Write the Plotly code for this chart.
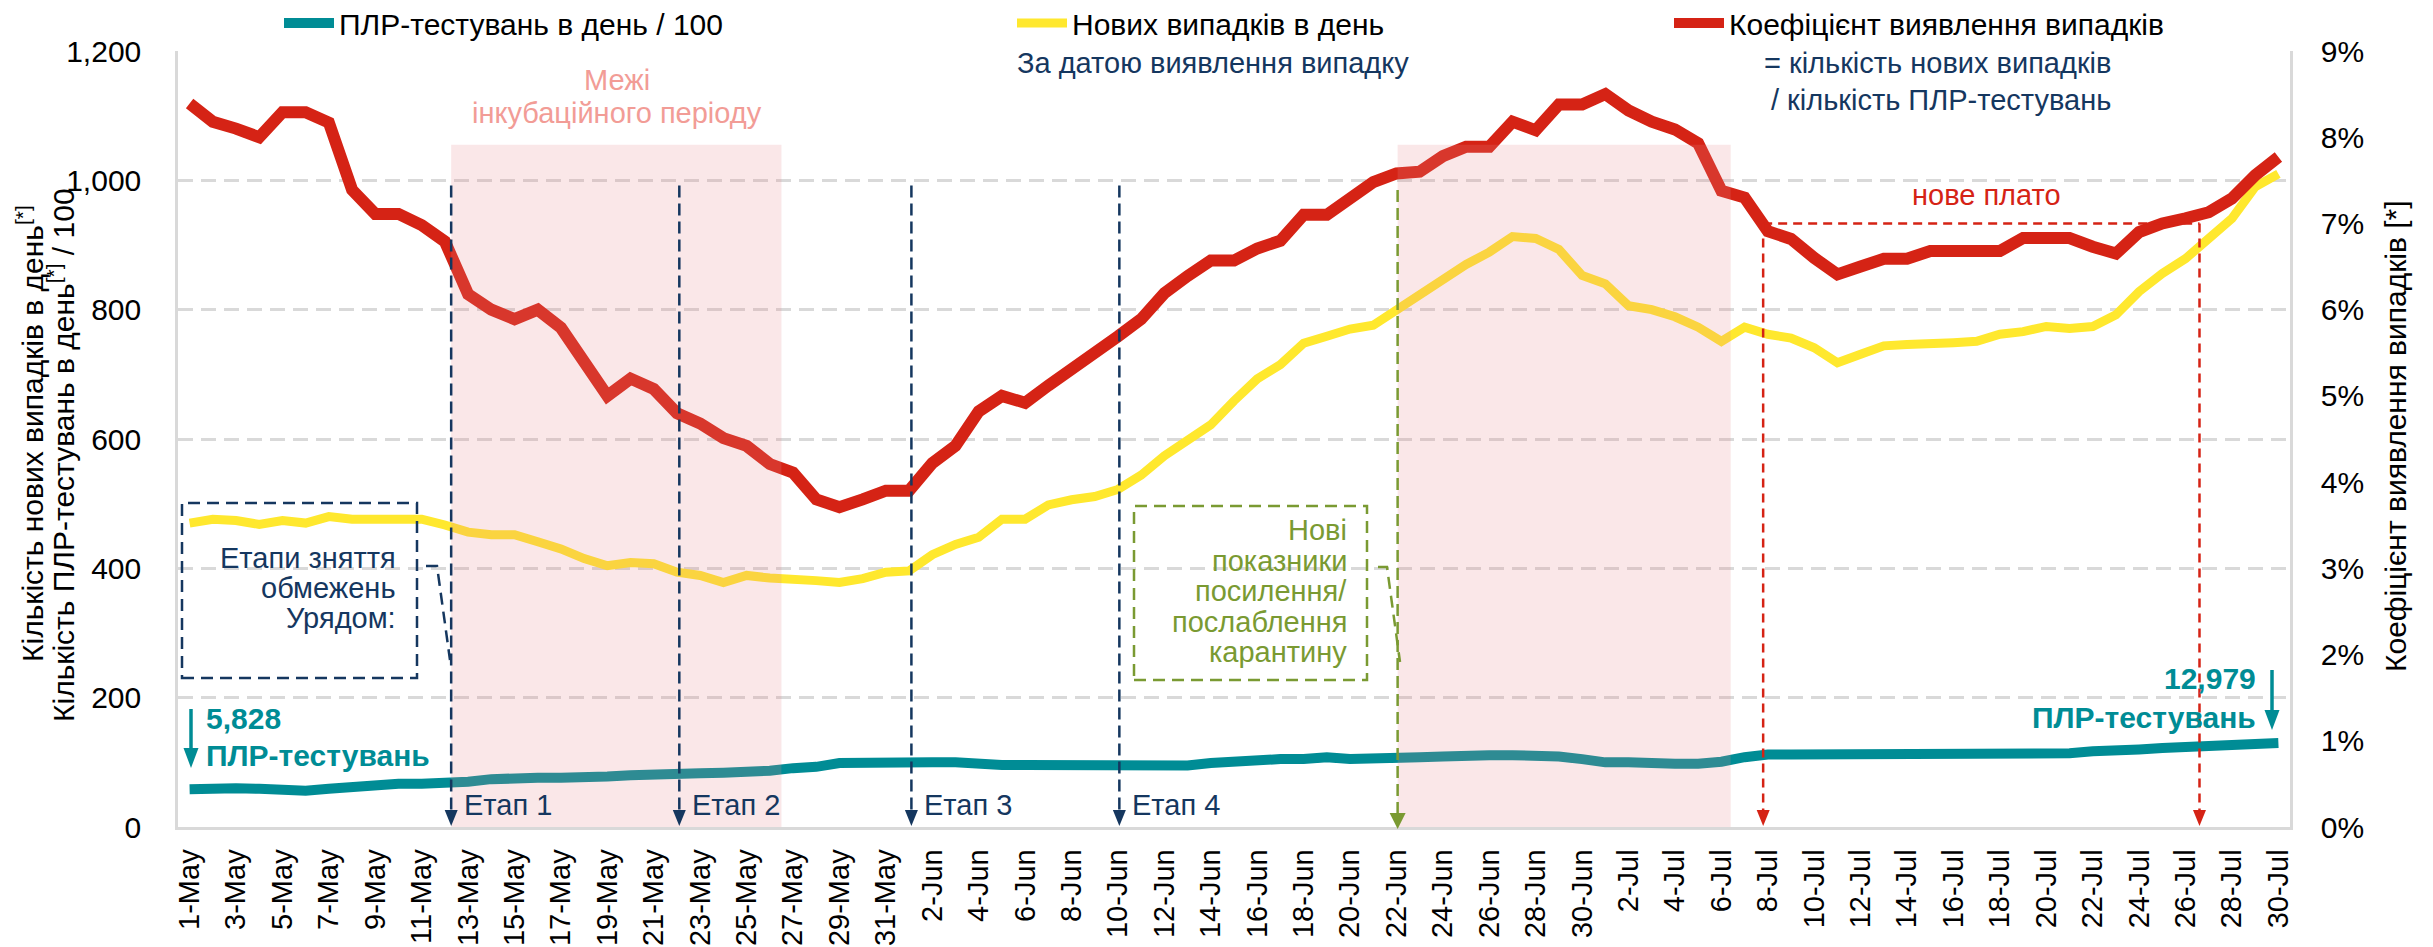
import plotly.graph_objects as go

# ---------------- data ----------------
dates = ([f"{d}-May" for d in range(1, 32)] +
         [f"{d}-Jun" for d in range(1, 31)] +
         [f"{d}-Jul" for d in range(1, 31)])

tests_per_100 = [
    58.28, 60, 60, 59, 56, 56, 59, 62, 65, 67,
    67, 67, 70, 74, 76, 76, 76, 76, 78, 80,
    80, 81, 83, 84, 84, 87, 91, 93, 99, 100,
    100, 100, 100, 100, 97, 96, 96, 96, 96, 94,
    93, 93, 93, 95, 99, 102, 105, 105, 105, 108,
    105, 105, 105, 108, 109, 111, 111, 111, 111, 109,
    105, 100, 100, 98, 98, 98, 101, 108, 112, 112,
    112, 112, 112, 112, 112, 112, 112, 112, 112, 112,
    112, 114, 117, 120, 120, 122, 123, 126, 126, 127,
    129.79]

new_cases = [
    470, 476, 474, 468, 474, 470, 480, 476, 476, 476,
    476, 467, 456, 452, 452, 441, 430, 415, 404, 409,
    407, 394, 389, 378, 389, 385, 384, 381, 378, 384,
    394, 396, 421, 437, 448, 476, 476, 498, 506, 511,
    522, 544, 574, 598, 622, 659, 693, 715, 748, 759,
    770, 776, 800, 822, 844, 870, 889, 913, 910, 893,
    853, 840, 806, 800, 789, 773, 751, 773, 762, 756,
    741, 718, 731, 744, 746, 749, 749, 751, 762, 766,
    774, 771, 774, 792, 828, 856, 879, 910, 941, 990,
    1010]

detection_rate = [
    8.39, 8.18, 8.10, 8.00, 8.29, 8.29, 8.17, 7.39, 7.11, 7.11,
    6.98, 6.79, 6.18, 6.00, 5.89, 6.00, 5.79, 5.42, 5.00, 5.20,
    5.08, 4.80, 4.68, 4.51, 4.42, 4.21, 4.11, 3.80, 3.71, 3.80,
    3.90, 3.90, 4.22, 4.42, 4.82, 5.00, 4.92, 5.12, 5.30, 5.47,
    5.69, 5.89, 6.19, 6.39, 6.57, 6.57, 6.71, 6.80, 7.10, 7.10,
    7.29, 7.48, 7.58, 7.60, 7.78, 7.89, 7.89, 8.18, 8.08, 8.38,
    8.38, 8.50, 8.31, 8.18, 8.09, 7.93, 7.38, 7.30, 6.91, 6.82,
    6.60, 6.41, 6.50, 6.59, 6.59, 6.68, 6.68, 6.68, 6.68, 6.83,
    6.83, 6.83, 6.73, 6.65, 6.90, 7.00, 7.06, 7.13, 7.29, 7.56,
    7.77]

series_names = ["ПЛР-тестувань в день / 100", "Нових випадків в день",
                "Коефіцієнт виявлення випадків"]
tick_labels = dates[::2]

# event positions (category index) and labels
stage_pos = [11.27, 21.1, 31.1, 40.06]
stage_labels = ["Етап 1", "Етап 2", "Етап 3", "Етап 4"]
quarantine_pos = 52.05
plateau_pos = [67.8, 86.6]
plateau_level = 7.0  # %
incubation_spans = [(11.27, 25.5), (52.05, 66.4)]

# ---------------- style ----------------
W, H = 2433, 947
L, R, T, B = 178, 143, 51, 120
PW, PH = W - L - R, H - T - B
Y_MAX, Y2_MAX = 1200, 9
N = len(dates)
FONT = "Liberation Sans, Arial, sans-serif"
TEAL = "#008C95"
YELLOW = "#FFE82E"
RED = "#D52315"
NAVY = "#15375F"
OLIVE = "#7A9A32"
SALMON = "#F29C96"
GRID = "#D9D9D9"


def xp(px):
    return (px - L) / PW


def yp(py):
    return (H - B - py) / PH


def yd(py):
    return (H - B - py) / PH * Y_MAX


def idx_px(i):
    return L + (i + 0.5) / N * PW


fig = go.Figure()
fig.add_trace(go.Scatter(x=dates, y=tests_per_100, name=series_names[0], mode="lines",
                         line=dict(color=TEAL, width=10), legend="legend"))
fig.add_trace(go.Scatter(x=dates, y=new_cases, name=series_names[1], mode="lines",
                         line=dict(color=YELLOW, width=9), legend="legend2"))
fig.add_trace(go.Scatter(x=dates, y=detection_rate, name=series_names[2], mode="lines",
                         line=dict(color=RED, width=12), yaxis="y2", legend="legend3"))

shapes = []


def arrowhead(px, tip_py, w, h, color):
    shapes.append(dict(type="path", xref="paper", yref="paper",
                       path=(f"M{xp(px - w / 2)},{yp(tip_py - h)} L{xp(px + w / 2)},{yp(tip_py - h)} "
                             f"L{xp(px)},{yp(tip_py)} Z"),
                       fillcolor=color, line=dict(width=0), layer="above"))


for x0, x1 in incubation_spans:
    shapes.append(dict(type="rect", xref="x", yref="y", x0=x0, x1=x1, y0=0, y1=1055,
                       fillcolor="rgba(230,135,140,0.2)", line=dict(width=0), layer="above"))
for s in stage_pos:
    shapes.append(dict(type="line", xref="x", yref="y", x0=s, x1=s, y0=992, y1=yd(812),
                       line=dict(color=NAVY, width=2.5, dash="12px,6px"), layer="above"))
    arrowhead(idx_px(s), 826, 13, 16, NAVY)
shapes.append(dict(type="line", xref="x", yref="y", x0=quarantine_pos, x1=quarantine_pos,
                   y0=985, y1=yd(815), line=dict(color=OLIVE, width=2.5, dash="12px,6px"),
                   layer="above"))
arrowhead(idx_px(quarantine_pos), 829, 16, 16, OLIVE)
plateau_y = plateau_level / Y2_MAX * Y_MAX
shapes.append(dict(type="line", xref="x", yref="y", x0=plateau_pos[0], x1=plateau_pos[1],
                   y0=plateau_y, y1=plateau_y, line=dict(color=RED, width=2.5, dash="9px,6px"),
                   layer="above"))
for p in plateau_pos:
    shapes.append(dict(type="line", xref="x", yref="y", x0=p, x1=p, y0=plateau_y, y1=yd(812),
                       line=dict(color=RED, width=2.5, dash="9px,6px"), layer="above"))
    arrowhead(idx_px(p), 826, 13, 16, RED)

# teal arrows
for px, top, tip in [(191, 709, 768), (2272, 670, 730)]:
    shapes.append(dict(type="line", xref="paper", yref="paper", x0=xp(px), x1=xp(px),
                       y0=yp(top), y1=yp(tip - 12), line=dict(color=TEAL, width=3.5),
                       layer="above"))
    arrowhead(px, tip, 15, 20, TEAL)

# dashed callout boxes
shapes.append(dict(type="rect", xref="paper", yref="paper", x0=xp(182), x1=xp(417),
                   y0=yp(678), y1=yp(503), line=dict(color=NAVY, width=2.5, dash="12px,7px"),
                   layer="above"))
shapes.append(dict(type="path", xref="paper", yref="paper",
                   path=f"M{xp(426)},{yp(566)} L{xp(437)},{yp(566)} L{xp(450)},{yp(660)}",
                   line=dict(color=NAVY, width=2.5, dash="12px,7px"), layer="above"))
shapes.append(dict(type="rect", xref="paper", yref="paper", x0=xp(1134), x1=xp(1367),
                   y0=yp(680), y1=yp(506), line=dict(color=OLIVE, width=2.5, dash="12px,7px"),
                   layer="above"))
shapes.append(dict(type="path", xref="paper", yref="paper",
                   path=f"M{xp(1378)},{yp(567)} L{xp(1387)},{yp(567)} L{xp(1400)},{yp(662)}",
                   line=dict(color=OLIVE, width=2.5, dash="12px,7px"), layer="above"))

annotations = []


def ann(text, px, py, color=NAVY, size=29, xanchor="center", angle=0, bold=False):
    if bold:
        text = f"<b>{text}</b>"
    annotations.append(dict(text=text, x=xp(px), y=yp(py), xref="paper", yref="paper",
                            xanchor=xanchor, yanchor="middle", showarrow=False,
                            textangle=angle, font=dict(family=FONT, size=size, color=color)))


# axis titles
ann("Кількість нових випадків в день<sup>[*]</sup>", 30, 434, color="black", size=30, angle=-90)
ann("Кількість ПЛР-тестувань в день<sup>[*]</sup> / 100", 61, 455, color="black", size=30,
    angle=-90)
ann("Коефіцієнт виявлення випадків [*]", 2395, 436, color="black", size=30, angle=-90)

# text annotations
ann("Межі", 617, 80, color=SALMON)
ann("інкубаційного періоду", 617, 113, color=SALMON)
ann("За датою виявлення випадку", 1213, 63)
ann("= кількість нових випадків", 2113, 63, xanchor="right")
ann("/ кількість ПЛР-тестувань", 2113, 100, xanchor="right")
ann("нове плато", 1986, 195, color=RED)
for i, t in enumerate(["Етапи зняття", "обмежень", "Урядом:"]):
    ann(t, 398, 558 + 30 * i, xanchor="right")
for i, t in enumerate(["Нові", "показники", "посилення/", "послаблення", "карантину"]):
    ann(t, 1349, 530 + 30.5 * i, color=OLIVE, xanchor="right")

first_tests = f"{round(tests_per_100[0] * 100):,}"
last_tests = f"{round(tests_per_100[-1] * 100):,}"
ann(first_tests, 204, 718, color=TEAL, size=30, xanchor="left", bold=True)
ann("ПЛР-тестувань", 204, 755, color=TEAL, size=30, xanchor="left", bold=True)
ann(last_tests, 2258, 678, color=TEAL, size=30, xanchor="right", bold=True)
ann("ПЛР-тестувань", 2258, 717, color=TEAL, size=30, xanchor="right", bold=True)

for s, lab in zip(stage_pos, stage_labels):
    annotations.append(dict(text=lab, x=s, y=yd(805), xref="x", yref="y", xshift=11,
                            xanchor="left", yanchor="middle", showarrow=False,
                            font=dict(family=FONT, size=29, color=NAVY)))

legend_common = dict(xref="container", yref="container", yanchor="middle", xanchor="left",
                     orientation="h", bgcolor="rgba(0,0,0,0)", borderwidth=0, itemwidth=50,
                     font=dict(family=FONT, size=30, color="black"))

fig.update_layout(
    template="none",
    width=W, height=H, autosize=False,
    margin=dict(l=L, r=R, t=T, b=B, pad=0, autoexpand=False),
    paper_bgcolor="white", plot_bgcolor="white",
    font=dict(family=FONT, size=30, color="black"),
    showlegend=True,
    legend=dict(x=279 / W, y=1 - 23 / H, **legend_common),
    legend2=dict(x=1012 / W, y=1 - 23 / H, **legend_common),
    legend3=dict(x=1669 / W, y=1 - 23 / H, **legend_common),
    xaxis=dict(type="category", range=[-0.5, N - 0.5], tickvals=tick_labels,
               ticktext=tick_labels, tickangle=-90, showgrid=False, zeroline=False,
               showline=True, linecolor=GRID, linewidth=2.5, ticks="", automargin=False,
               ticklabelstandoff=8,
               tickfont=dict(family=FONT, size=29, color="black")),
    yaxis=dict(range=[0, Y_MAX], dtick=200, tickformat=",d", showgrid=True,
               gridcolor=GRID, gridwidth=2.5, griddash="15px,8px", zeroline=False,
               showline=True, linecolor=GRID, linewidth=2.5, ticks="", automargin=False,
               ticklabelstandoff=28,
               tickfont=dict(family=FONT, size=30, color="black")),
    yaxis2=dict(range=[0, Y2_MAX], dtick=1, ticksuffix="%", overlaying="y", side="right",
                showgrid=False, zeroline=False, showline=True, linecolor=GRID, linewidth=2.5,
                ticks="", automargin=False, ticklabelstandoff=22,
                tickfont=dict(family=FONT, size=30, color="black")),
    shapes=shapes,
    annotations=annotations,
)

fig.write_html("out.html", config={"displayModeBar": False},
               post_script="document.body.style.margin='0';document.body.style.overflow='hidden';")
